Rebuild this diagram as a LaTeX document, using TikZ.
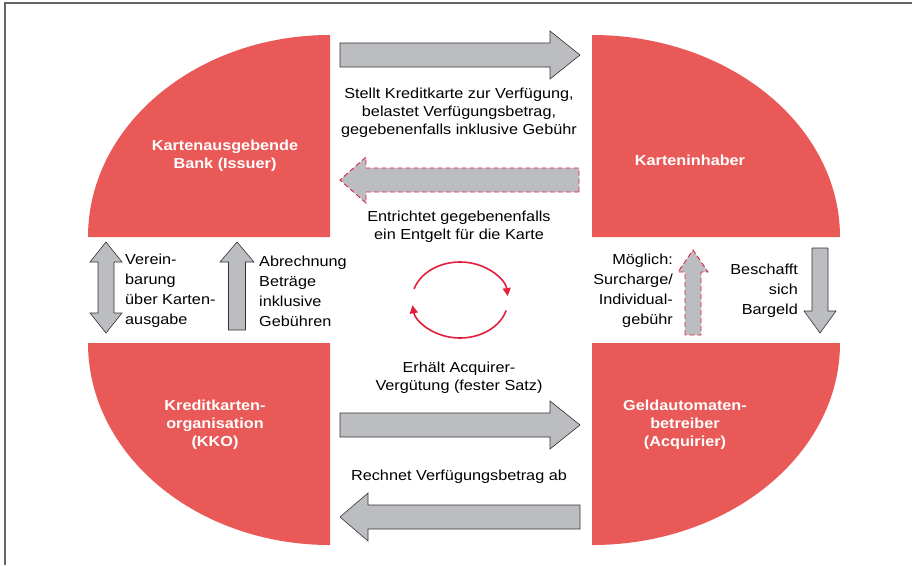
\documentclass[tikz,border=0pt]{standalone}
\usepackage{fontspec}
\setmainfont{Liberation Sans}[FakeStretch=1.12]
\usetikzlibrary{calc,arrows.meta}

\definecolor{kred}{RGB}{232,89,87}
\definecolor{kgray}{RGB}{188,189,193}
\definecolor{kdash}{RGB}{225,30,60}
\definecolor{kframe}{RGB}{100,100,100}

\tikzset{
  arrbody/.store in=\arrbody, arrhead/.store in=\arrhead, arrlen/.store in=\arrlen,
  arrbody=12pt, arrhead=24pt, arrlen=30pt,
  blockarrow/.style={to path={
    ($(\tikztostart)!\arrbody!90:(\tikztotarget)$)
    -- ($($(\tikztotarget)!\arrlen!(\tikztostart)$)!\arrbody!90:(\tikztotarget)$)
    -- ($($(\tikztotarget)!\arrlen!(\tikztostart)$)!\arrhead!90:(\tikztotarget)$)
    -- (\tikztotarget)
    -- ($($(\tikztotarget)!\arrlen!(\tikztostart)$)!\arrhead!-90:(\tikztotarget)$)
    -- ($($(\tikztotarget)!\arrlen!(\tikztostart)$)!\arrbody!-90:(\tikztotarget)$)
    -- ($(\tikztostart)!\arrbody!-90:(\tikztotarget)$)
    -- cycle}},
  doublearrow/.style={to path={
    (\tikztostart)
    -- ($($(\tikztostart)!\arrlen!(\tikztotarget)$)!\arrhead!90:(\tikztotarget)$)
    -- ($($(\tikztostart)!\arrlen!(\tikztotarget)$)!\arrbody!90:(\tikztotarget)$)
    -- ($($(\tikztotarget)!\arrlen!(\tikztostart)$)!\arrbody!90:(\tikztotarget)$)
    -- ($($(\tikztotarget)!\arrlen!(\tikztostart)$)!\arrhead!90:(\tikztotarget)$)
    -- (\tikztotarget)
    -- ($($(\tikztotarget)!\arrlen!(\tikztostart)$)!\arrhead!-90:(\tikztotarget)$)
    -- ($($(\tikztotarget)!\arrlen!(\tikztostart)$)!\arrbody!-90:(\tikztotarget)$)
    -- ($($(\tikztostart)!\arrlen!(\tikztotarget)$)!\arrbody!-90:(\tikztotarget)$)
    -- ($($(\tikztostart)!\arrlen!(\tikztotarget)$)!\arrhead!-90:(\tikztotarget)$)
    -- cycle}},
  grayarrow/.style={draw=black!80, line width=0.6pt, fill=kgray},
  dasharrow/.style={draw=kdash, dash pattern=on 5pt off 3pt, line width=0.9pt, fill=kgray},
  quarter/.style={fill=kred, draw=none},
  celltext/.style={text=white, font=\fontsize{14.5}{18}\selectfont\bfseries, align=center},
  note/.style={font=\fontsize{14.5}{18}\selectfont, inner sep=0pt},
  sidenote/.style={font=\fontsize{14.5}{20}\selectfont, inner sep=0pt},
  cycarrow/.style={draw=kdash, line width=1.6pt, -{Triangle[length=8pt,width=8pt]}}
}

\begin{document}
\begin{tikzpicture}[x=1pt,y=-1pt]
\useasboundingbox (0,0) rectangle (912,565);

% frame
\draw[kframe, line width=1.3pt] (5,565) -- (5,3) -- (912,3);

% the four parties
\begin{scope}
    \fill[quarter] (330,237) -- (88,237)
        arc[start angle=180, end angle=90, x radius=242pt, y radius=202pt] -- cycle;
    \fill[quarter] (592,237) -- (592,35)
        arc[start angle=90, end angle=0, x radius=248pt, y radius=202pt] -- cycle;
    \fill[quarter] (330,343) -- (330,545)
        arc[start angle=270, end angle=180, x radius=242pt, y radius=202pt] -- cycle;
    \fill[quarter] (592,343) -- (840,343)
        arc[start angle=0, end angle=-90, x radius=248pt, y radius=202pt] -- cycle;

    \node[celltext] (issuer) at (225,156) {Kartenausgebende\\Bank (Issuer)};
    \node[celltext] (holder) at (690,160) {Karteninhaber};
    \node[celltext] (kko) at (215,425) {Kreditkarten-\\organisation\\(KKO)};
    \node[celltext] (acq) at (685,425) {Geldautomaten-\\betreiber\\(Acquirier)};
\end{scope}

% texts
\begin{scope}[every node/.style={note}]
    \node[align=center] (stellt) at (459,113)
        {Stellt Kreditkarte zur Verfügung,\\belastet Verfügungsbetrag,\\gegebenenfalls inklusive Gebühr};
    \node[align=center] (entr) at (459,227)
        {Entrichtet gegebenenfalls\\ein Entgelt für die Karte};
    \node[align=center] (erh) at (459,378)
        {Erhält Acquirer-\\Vergütung (fester Satz)};
    \node[align=center] (rech) at (459,477) {Rechnet Verfügungsbetrag ab};
\end{scope}
\begin{scope}[every node/.style={sidenote}]
    \node[align=left, anchor=west] (verein) at (125,291)
        {Verein-\\barung\\über Karten-\\ausgabe};
    \node[align=left, anchor=west] (abr) at (259,291)
        {Abrechnung\\Beträge\\inklusive\\Gebühren};
    \node[align=right, anchor=east] (moegl) at (673,291)
        {Möglich:\\Surcharge/\\Individual-\\gebühr};
    \node[align=right, anchor=east] (besch) at (798,291)
        {Beschafft\\sich\\Bargeld};
\end{scope}

% arrow ends
\coordinate (a1) at (340,55);   \coordinate (b1) at (580,55);
\coordinate (a2) at (579,180);  \coordinate (b2) at (340,180);
\coordinate (a3) at (340,425);  \coordinate (b3) at (580,425);
\coordinate (a4) at (580,517);  \coordinate (b4) at (340,517);
\coordinate (a5) at (106,242);  \coordinate (b5) at (106,333);
\coordinate (a6) at (237,330);  \coordinate (b6) at (237,242);
\coordinate (a7) at (693,335);  \coordinate (b7) at (693,250);
\coordinate (a8) at (820,248);  \coordinate (b8) at (820,333);
\coordinate (cyc) at (460,300);

\begin{scope}
    \draw[grayarrow] (a1) to[blockarrow] (b1);
    \draw[dasharrow, arrhead=23pt, arrlen=26pt] (a2) to[blockarrow] (b2);
    \draw[grayarrow] (a3) to[blockarrow] (b3);
    \draw[grayarrow, arrlen=28pt] (a4) to[blockarrow] (b4);
    \draw[grayarrow, arrbody=8pt, arrhead=16pt, arrlen=20pt] (a5) to[doublearrow] (b5);
    \draw[grayarrow, arrbody=8.5pt, arrhead=17pt, arrlen=20pt] (a6) to[blockarrow] (b6);
    \draw[dasharrow, arrbody=8pt, arrhead=15pt, arrlen=22pt] (a7) to[blockarrow] (b7);
    \draw[grayarrow, arrbody=8pt, arrhead=16pt, arrlen=22pt] (a8) to[blockarrow] (b8);

    \draw[cycarrow] ($(cyc)+(163:48pt and 38pt)$)
        arc[start angle=163, end angle=6, x radius=48pt, y radius=38pt];
    \draw[cycarrow] ($(cyc)+(-16:48pt and 38pt)$)
        arc[start angle=-16, end angle=-172, x radius=48pt, y radius=38pt];
\end{scope}

\end{tikzpicture}
\end{document}
